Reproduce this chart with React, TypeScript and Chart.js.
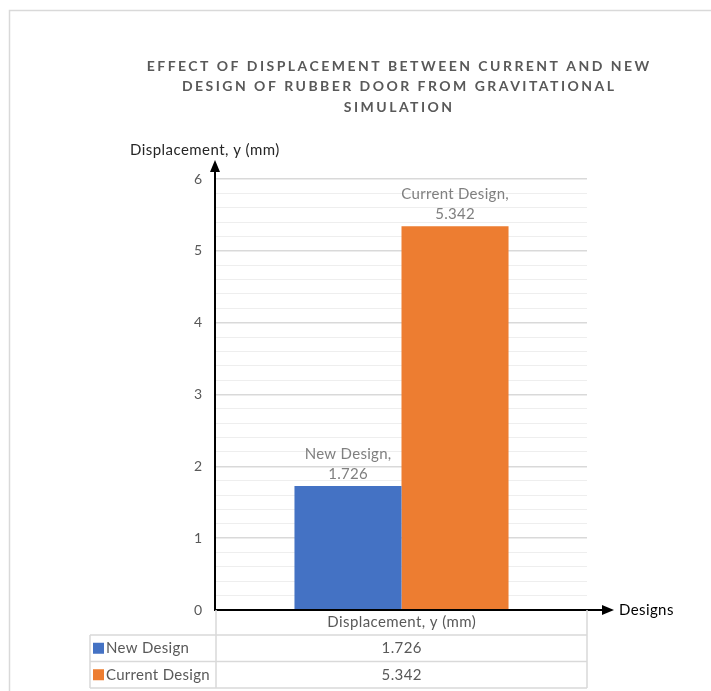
import React, { useEffect, useRef } from 'react';
import { Chart, registerables } from 'chart.js';

Chart.register(...registerables);

const categories = ['Displacement, y (mm)'];
const seriesNames = ['New Design', 'Current Design'];
const newDesign = [1.726];
const currentDesign = [5.342];
const seriesColors = ['#4472C4', '#ED7D31'];
const titleLines = [
  'EFFECT OF DISPLACEMENT BETWEEN CURRENT AND NEW',
  'DESIGN OF RUBBER DOOR FROM GRAVITATIONAL',
  'SIMULATION',
];
const yAxisTitle = 'Displacement, y (mm)';
const xAxisTitle = 'Designs';
const yMin = 0;
const yMax = 6;
const yMinorStep = 0.2;

const FONT = "Lato, 'Open Sans', sans-serif";

function txt(ctx: CanvasRenderingContext2D, s: string, x: number, y: number, sp: number, align: CanvasTextAlign) {
  (ctx as any).letterSpacing = `${sp}px`;
  ctx.textAlign = align;
  let dx = 0;
  if (align === 'center') dx = sp / 2;
  else if (align === 'right') dx = sp;
  ctx.fillText(s, x + dx, y);
  (ctx as any).letterSpacing = '0px';
}

const decorPlugin = {
  id: 'decor',
  afterDraw(chart: any) {
    const ctx: CanvasRenderingContext2D = chart.ctx;
    const ca = chart.chartArea;
    ctx.save();
    ctx.textBaseline = 'middle';

    // outer border
    ctx.strokeStyle = '#d9d9d9';
    ctx.lineWidth = 1.5;
    ctx.beginPath();
    ctx.moveTo(9.5, chart.height);
    ctx.lineTo(9.5, 10.5);
    ctx.lineTo(chart.width, 10.5);
    ctx.stroke();

    // title
    ctx.fillStyle = '#595959';
    ctx.font = `bold 14px ${FONT}`;
    (ctx as any).letterSpacing = '0px';
    const w0 = ctx.measureText(titleLines[0]).width;
    const spacing = Math.max(0, (505 - w0) / titleLines[0].length);
    titleLines.forEach((t, i) => {
      txt(ctx, t, 398, 66 + i * 20.5, spacing, 'center');
    });

    // y axis title
    ctx.fillStyle = '#262626';
    ctx.font = `15px ${FONT}`;
    txt(ctx, yAxisTitle, 130, 150, 0.45, 'left');

    // axes with arrows
    const ax = ca.left - 1;
    const ay = ca.bottom;
    ctx.strokeStyle = '#000';
    ctx.fillStyle = '#000';
    ctx.lineWidth = 2;
    ctx.beginPath();
    ctx.moveTo(ax, ay);
    ctx.lineTo(ax, 170);
    ctx.stroke();
    ctx.beginPath();
    ctx.moveTo(ax, 160);
    ctx.lineTo(ax - 5, 172);
    ctx.lineTo(ax + 5, 172);
    ctx.closePath();
    ctx.fill();

    ctx.beginPath();
    ctx.moveTo(ax - 1, ay);
    ctx.lineTo(604, ay);
    ctx.stroke();
    ctx.beginPath();
    ctx.moveTo(614, ay);
    ctx.lineTo(602, ay - 5);
    ctx.lineTo(602, ay + 5);
    ctx.closePath();
    ctx.fill();

    ctx.fillStyle = '#000';
    ctx.font = `15px ${FONT}`;
    txt(ctx, xAxisTitle, 619, ay, 0.4, 'left');

    // data labels
    ctx.fillStyle = '#7f7f7f';
    ctx.font = `15px ${FONT}`;
    chart.data.datasets.forEach((ds: any, di: number) => {
      const meta = chart.getDatasetMeta(di);
      meta.data.forEach((el: any, i: number) => {
        const v = ds.data[i];
        txt(ctx, `${ds.label},`, el.x, el.y - 32, 0.3, 'center');
        txt(ctx, String(v), el.x, el.y - 12, 0.3, 'center');
      });
    });

    // data table
    const tl = 90;
    const rowH = 26.5;
    const r0 = ay + 25;
    const r1 = r0 + rowH;
    const r2 = r1 + rowH;
    ctx.strokeStyle = '#d9d9d9';
    ctx.lineWidth = 1.5;
    ctx.beginPath();
    ctx.moveTo(ca.left, ay);
    ctx.lineTo(ca.left, r2);
    ctx.moveTo(ca.right, ay);
    ctx.lineTo(ca.right, r2);
    ctx.moveTo(tl, r0);
    ctx.lineTo(tl, r2);
    [r0, r1, r2].forEach((y) => {
      ctx.moveTo(tl, y);
      ctx.lineTo(ca.right, y);
    });
    ctx.stroke();

    const mid = (ca.left + ca.right) / 2;
    ctx.fillStyle = '#595959';
    ctx.font = `15px ${FONT}`;
    txt(ctx, categories[0], mid, ay + 12.5, 0.4, 'center');
    chart.data.datasets.forEach((ds: any, di: number) => {
      const cy = r0 + rowH * di + rowH / 2;
      ctx.fillStyle = '#595959';
      txt(ctx, String(ds.data[0]), mid, cy, 0.4, 'center');
      ctx.fillStyle = ds.backgroundColor;
      ctx.fillRect(tl + 3, cy - 5.5, 11, 11);
      ctx.fillStyle = '#595959';
      txt(ctx, ds.label, tl + 16, cy, 0.3, 'left');
    });

    ctx.restore();
  },
};

export default function App() {
  const ref = useRef<HTMLCanvasElement | null>(null);
  useEffect(() => {
    if (!ref.current) return;
    const chart = new Chart(ref.current, {
      type: 'bar',
      data: {
        labels: categories,
        datasets: [
          { label: seriesNames[0], data: newDesign, backgroundColor: seriesColors[0] },
          { label: seriesNames[1], data: currentDesign, backgroundColor: seriesColors[1] },
        ],
      },
      options: {
        responsive: false,
        animation: false,
        devicePixelRatio: 1,
        layout: { padding: { left: 156, right: 124, top: 179, bottom: 81 } },
        plugins: { legend: { display: false }, title: { display: false }, tooltip: { enabled: false } },
        datasets: { bar: { categoryPercentage: 0.577, barPercentage: 1 } },
        scales: {
          x: { display: false, offset: true },
          y: {
            min: yMin,
            max: yMax,
            afterFit: (s: any) => { s.width = 60; },
            border: { display: false },
            grid: {
              drawTicks: false,
              color: (c: any) => (Math.abs(c.tick.value - Math.round(c.tick.value)) < 1e-6 ? '#d9d9d9' : '#eeeeee'),
              lineWidth: (c: any) => (Math.abs(c.tick.value - Math.round(c.tick.value)) < 1e-6 ? 1.5 : 1),
            },
            ticks: {
              stepSize: yMinorStep,
              autoSkip: false,
              padding: 14,
              color: '#595959',
              font: { family: FONT, size: 14 },
              callback: (v: any) => (Math.abs(v - Math.round(v)) < 1e-6 ? String(Math.round(v)) : ''),
            },
          },
        },
      },
      plugins: [decorPlugin],
    });
    return () => chart.destroy();
  }, []);
  return (
    <div style={{ position: 'absolute', left: 0, top: 0 }}>
      <canvas ref={ref} width={711} height={691} />
    </div>
  );
}
